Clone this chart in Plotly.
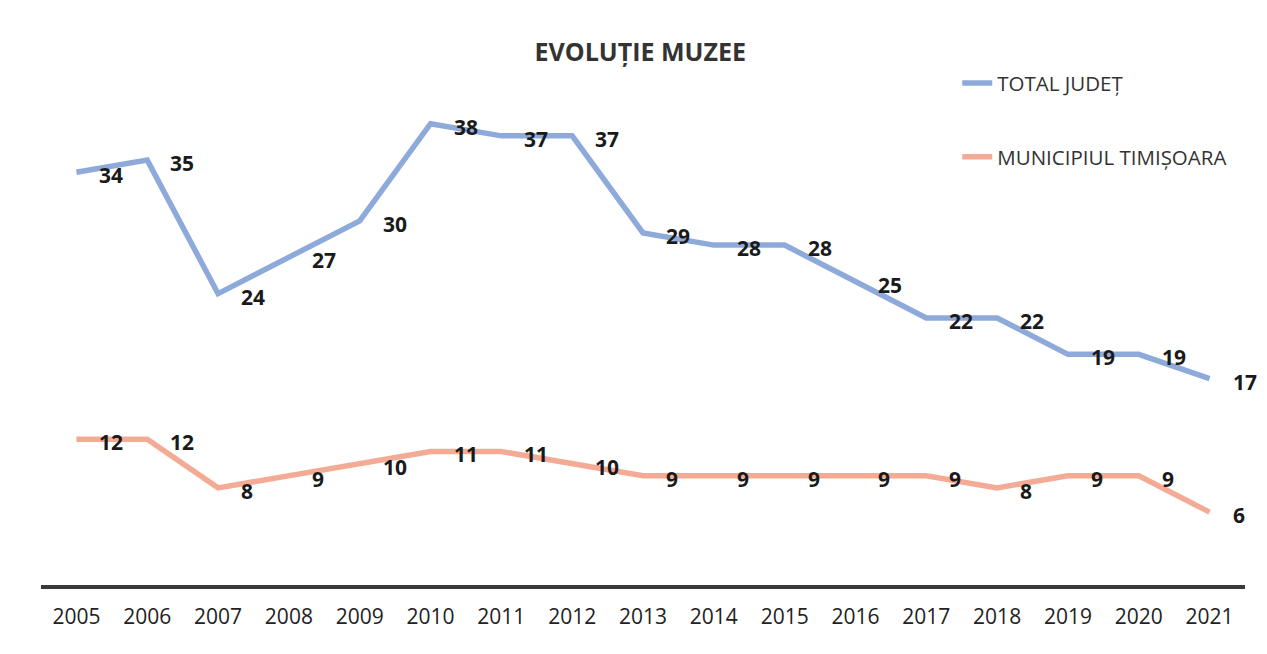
import plotly.graph_objects as go

years = [str(y) for y in range(2005, 2022)]
total_judet = [34, 35, 24, 27, 30, 38, 37, 37, 29, 28, 28, 25, 22, 22, 19, 19, 17]
municipiul = [12, 12, 8, 9, 10, 11, 11, 10, 9, 9, 9, 9, 9, 8, 9, 9, 6]

series_names = ["TOTAL JUDEȚ", "MUNICIPIUL TIMIȘOARA"]
series_values = [total_judet, municipiul]
series_colors = ["#8eaadb", "#f4ab96"]

FONT = "Open Sans"

fig = go.Figure()
for i, (name, vals, col) in enumerate(zip(series_names, series_values, series_colors)):
    fig.add_trace(go.Scatter(
        x=years, y=vals, name=name, mode="lines",
        line=dict(color=col, width=5.5),
        legendgroup=f"g{i}",
    ))

annotations = []
for vals in series_values:
    for idx, v in enumerate(vals):
        annotations.append(dict(
            x=idx, y=v, xref="x", yref="y", text=f"<b>{v}</b>",
            showarrow=False, xanchor="left", yanchor="middle",
            xshift=21, yshift=-3,
            font=dict(family=FONT, size=21, color="#1a1a1a"),
        ))

fig.update_layout(
    width=1267, height=654,
    paper_bgcolor="white", plot_bgcolor="white",
    margin=dict(l=33, r=30, t=52, b=77),
    title=dict(text="<b>EVOLUȚIE MUZEE</b>", x=0.499, xanchor="center",
               y=0.933, yanchor="middle",
               font=dict(family=FONT, size=25, color="#333333")),
    legend=dict(x=0.761, y=0.994, xanchor="left", yanchor="top",
                tracegroupgap=44, bgcolor="rgba(0,0,0,0)",
                font=dict(family=FONT, size=20.5, color="#333333")),
    annotations=annotations,
)
fig.update_xaxes(type="category", range=[-0.5, 16.5], showgrid=False,
                 showline=True, linecolor="#3a3a3a", linewidth=4,
                 ticks="", ticklabelstandoff=10,
                 tickfont=dict(family=FONT, size=21, color="#222222"))
fig.update_yaxes(range=[0, 43.25], showgrid=False, showticklabels=False,
                 zeroline=False, showline=False)

fig.write_html("out.html")
